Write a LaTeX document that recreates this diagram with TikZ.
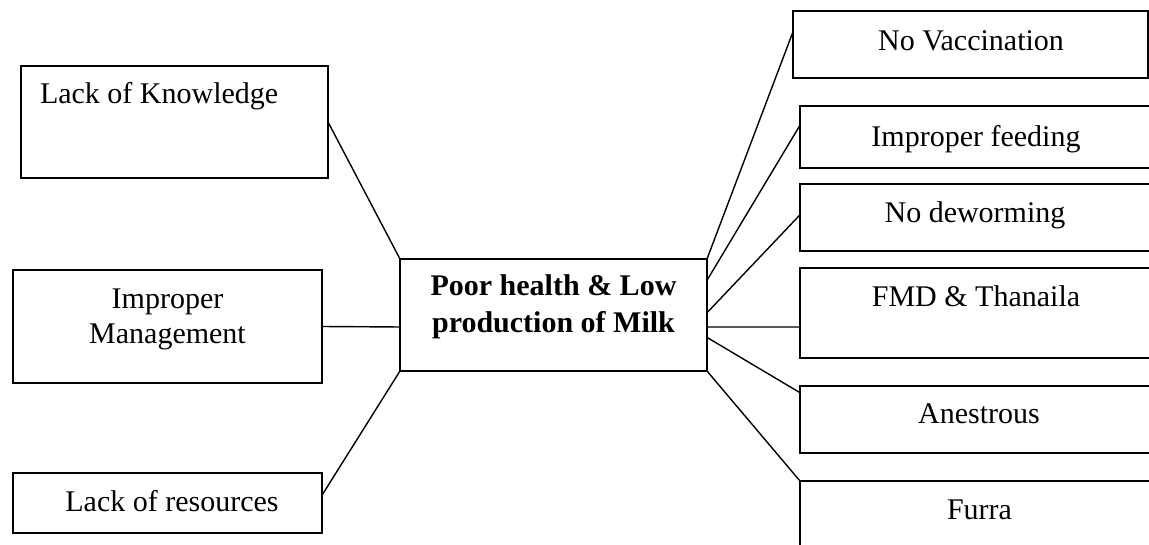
\documentclass[tikz,border=0pt]{standalone}
\usepackage{fontspec}
\setmainfont{Liberation Serif}
\usetikzlibrary{calc}
\begin{document}
\begin{tikzpicture}[x=1pt,y=-1pt,
  box/.style={draw=black,line width=1.4pt,rectangle,inner sep=0pt,outer sep=0pt},
  txt/.style={inner sep=0pt,outer sep=0pt,anchor=base,font=\fontsize{30}{36}\selectfont},
  bold/.style={txt,font=\fontsize{30}{36}\selectfont\bfseries},
  link/.style={draw=black,line width=1.4pt}]
\useasboundingbox (0,0) rectangle (1149,544);
\clip (0,0) rectangle (1149,544);

% causes on the left
\node[box,minimum width=307pt,minimum height=112pt] (kn) at (174.5,122) {};
\node[box,minimum width=309pt,minimum height=113pt] (im) at (167.5,326.5) {};
\node[box,minimum width=309pt,minimum height=60pt] (res) at (167.5,503) {};
\node[txt,anchor=base west] (knT) at (40,103) {Lack of Knowledge};
\node[txt] (imT1) at (167.5,308) {Improper};
\node[txt] (imT2) at (167.5,343) {Management};
\node[txt] (resT) at (172,511) {Lack of resources};

% central problem
\node[box,minimum width=307pt,minimum height=112pt] (mid) at (553.5,315) {};
\node[bold] (midT1) at (553.5,295) {Poor health \& Low};
\node[bold] (midT2) at (553.5,332) {production of Milk};

% effects on the right
\node[box,minimum width=355pt,minimum height=67pt] (vac) at (970.5,44.5) {};
\node[box,minimum width=370pt,minimum height=62pt] (feed) at (985,137) {};
\node[box,minimum width=370pt,minimum height=67pt] (worm) at (985,217.5) {};
\node[box,minimum width=370pt,minimum height=90pt] (fmd) at (985,313) {};
\node[box,minimum width=370pt,minimum height=67pt] (anes) at (985,419.5) {};
\node[box,minimum width=370pt,minimum height=89pt] (furra) at (985,525.5) {};
\node[txt] (vacT) at (971,50) {No Vaccination};
\node[txt] (feedT) at (976,146) {Improper feeding};
\node[txt] (wormT) at (975,222) {No deworming};
\node[txt] (fmdT) at (976,306) {FMD \& Thanaila};
\node[txt] (anesT) at (979,423) {Anestrous};
\node[txt] (furraT) at (979.5,519) {Furra};

% connectors, left side
\draw[link] (kn.east) -- (mid.north west);
\draw[link] (im.east) -- ($(mid.north west)!0.607!(mid.south west)$);
\draw[link] ($(res.north east)!0.37!(res.south east)$) -- (mid.south west);

% connectors, right side
\draw[link] (mid.north east) -- ($(vac.north west)!0.31!(vac.south west)$);
\draw[link] ($(mid.north east)!0.19!(mid.south east)$) -- ($(feed.north west)!0.31!(feed.south west)$);
\draw[link] ($(mid.north east)!0.48!(mid.south east)$) -- ($(worm.north west)!0.46!(worm.south west)$);
\draw[link] ($(mid.north east)!0.607!(mid.south east)$) -- ($(fmd.north west)!0.655!(fmd.south west)$);
\draw[link] ($(mid.north east)!0.70!(mid.south east)$) -- ($(anes.north west)!0.1!(anes.south west)$);
\draw[link] (mid.south east) -- (furra.north west);
\end{tikzpicture}
\end{document}
